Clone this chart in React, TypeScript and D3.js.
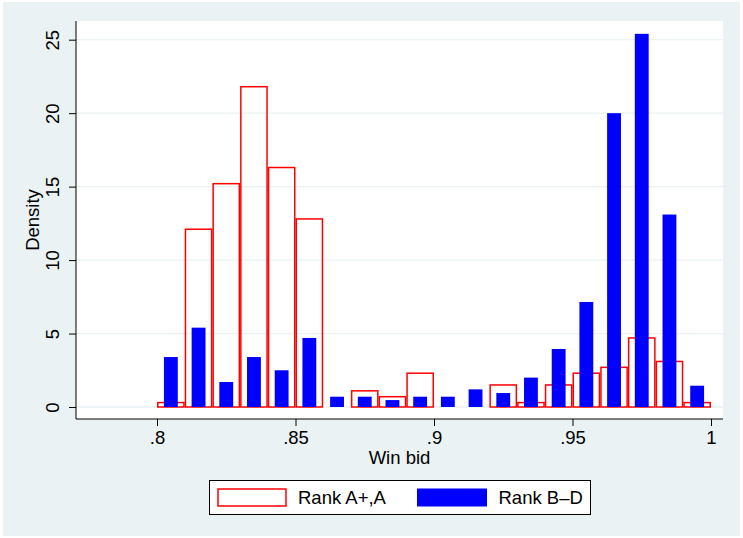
import * as d3 from 'd3';
import { useEffect, useRef } from 'react';

// bin starts (width .01)
const binStarts = [0.80, 0.81, 0.82, 0.83, 0.84, 0.85, 0.86, 0.87, 0.88, 0.89,
  0.90, 0.91, 0.92, 0.93, 0.94, 0.95, 0.96, 0.97, 0.98, 0.99];
const rankA = [0.3, 12.1, 15.2, 21.8, 16.3, 12.8, 0, 1.1, 0.7, 2.3,
  0, 0, 1.5, 0.3, 1.5, 2.3, 2.7, 4.7, 3.1, 0.3];
const rankBD = [3.4, 5.4, 1.7, 3.4, 2.5, 4.7, 0.7, 0.7, 0.47, 0.7,
  0.7, 1.2, 0.95, 2.0, 3.95, 7.15, 20.0, 25.4, 13.1, 1.45];
const xTicks = [0.8, 0.85, 0.9, 0.95, 1];
const xTickLabels = ['.8', '.85', '.9', '.95', '1'];
const yTicks = [0, 5, 10, 15, 20, 25];
const legendLabels = ['Rank A+,A', 'Rank B\u2013D'];

const binW = 0.01;

function Chart() {
  const svgRef = useRef<SVGSVGElement>(null);

  useEffect(() => {
    const w = 743;
    const h = 538;
    const svg = d3.select(svgRef.current)
      .attr('width', w)
      .attr('height', h);
    svg.selectAll('*').remove();

    const font = 'Liberation Sans, Arial, sans-serif';
    const fs = 18.5;
    const plot = { left: 76, right: 723, top: 21, bottom: 419 };

    const x = d3.scaleLinear().domain([0.8, 1]).range([157, 711]);
    const y = d3.scaleLinear().domain([0, 25]).range([407, 39.7]);

    svg.append('rect')
      .attr('x', 3).attr('y', 2).attr('width', 737).attr('height', 534)
      .attr('fill', '#eaf2f3');
    svg.append('rect')
      .attr('x', plot.left).attr('y', plot.top)
      .attr('width', plot.right - plot.left).attr('height', plot.bottom - plot.top)
      .attr('fill', '#fff');

    // grid
    svg.append('g').selectAll('line')
      .data(yTicks)
      .join('line')
      .attr('x1', plot.left).attr('x2', plot.right)
      .attr('y1', d => y(d)).attr('y2', d => y(d))
      .attr('stroke', '#eaf2f3').attr('stroke-width', 1.3);

    const data = binStarts.map((b, i) => ({ b, a: rankA[i], bd: rankBD[i] }));

    // red hollow bars
    svg.append('g').selectAll('rect')
      .data(data.filter(d => d.a > 0))
      .join('rect')
      .attr('x', d => x(d.b) + 0.75)
      .attr('y', d => y(d.a))
      .attr('width', d => x(d.b + binW) - x(d.b) - 1.5)
      .attr('height', d => y(0) - y(d.a))
      .attr('fill', 'none')
      .attr('stroke', '#ff0000')
      .attr('stroke-width', 1.5);

    // blue bars, half width, centred
    svg.append('g').selectAll('rect')
      .data(data)
      .join('rect')
      .attr('x', d => x(d.b + binW * 0.25))
      .attr('y', d => y(d.bd))
      .attr('width', d => x(d.b + binW * 0.75) - x(d.b + binW * 0.25))
      .attr('height', d => y(0) - y(d.bd))
      .attr('fill', '#0000ff');

    // axes
    const yAxis = d3.axisLeft(y).tickValues(yTicks).tickSize(7).tickSizeOuter(0);
    const gy = svg.append('g')
      .attr('transform', `translate(${plot.left},0)`)
      .call(yAxis);
    gy.select('.domain').attr('d', `M0,${plot.top}V${plot.bottom}`).attr('stroke', '#000');
    gy.selectAll('.tick line').attr('stroke', '#000');
    gy.selectAll('.tick text')
      .attr('font-family', font).attr('font-size', fs).attr('fill', '#000')
      .attr('text-anchor', 'middle')
      .attr('transform', 'rotate(-90)')
      .attr('x', 0)
      .attr('y', -17)
      .attr('dy', 0);

    const xAxis = d3.axisBottom(x).tickValues(xTicks)
      .tickFormat((_, i) => xTickLabels[i]).tickSize(7).tickSizeOuter(0);
    const gx = svg.append('g')
      .attr('transform', `translate(0,${plot.bottom})`)
      .call(xAxis);
    gx.select('.domain').attr('d', `M${plot.left},0H${plot.right}`).attr('stroke', '#000');
    gx.selectAll('.tick line').attr('stroke', '#000');
    gx.selectAll('.tick text')
      .attr('font-family', font).attr('font-size', fs).attr('fill', '#000')
      .attr('y', 25).attr('dy', 0);

    svg.append('text')
      .attr('x', (plot.left + plot.right) / 2).attr('y', 464)
      .attr('text-anchor', 'middle')
      .attr('font-family', font).attr('font-size', fs)
      .text('Win bid');
    svg.append('text')
      .attr('transform', `translate(39,${(plot.top + plot.bottom) / 2}) rotate(-90)`)
      .attr('text-anchor', 'middle')
      .attr('font-family', font).attr('font-size', fs)
      .text('Density');

    // legend
    const lg = svg.append('g');
    lg.append('rect')
      .attr('x', 209.5).attr('y', 480.5).attr('width', 381).attr('height', 34)
      .attr('fill', '#fff').attr('stroke', '#000').attr('stroke-width', 1);
    lg.append('rect')
      .attr('x', 218).attr('y', 489).attr('width', 68).attr('height', 17)
      .attr('fill', '#fff').attr('stroke', '#ff0000').attr('stroke-width', 1.5);
    lg.append('rect')
      .attr('x', 417).attr('y', 488.5).attr('width', 70).attr('height', 18)
      .attr('fill', '#0000ff');
    lg.selectAll('text.lab')
      .data(legendLabels)
      .join('text')
      .attr('class', 'lab')
      .attr('x', (_, i) => (i === 0 ? 298 : 498.5))
      .attr('y', 504)
      .attr('font-family', font).attr('font-size', fs)
      .text(d => d);
  }, []);

  return <svg ref={svgRef} style={{ display: 'block', position: 'absolute', left: 0, top: 0 }}></svg>;
}

export default function App() {
  return <Chart />;
}
